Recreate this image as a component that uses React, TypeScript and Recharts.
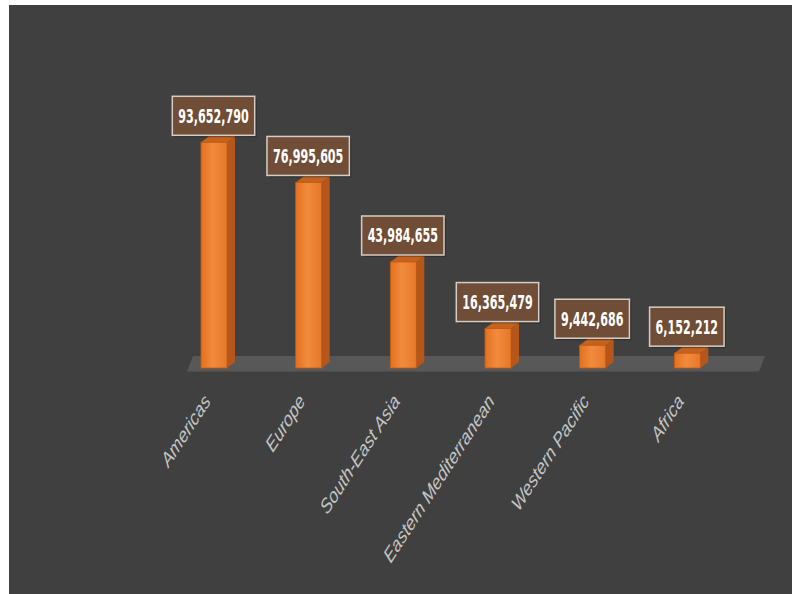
import { BarChart, Bar, XAxis, YAxis, LabelList, ReferenceArea } from "recharts";

const regions = [
  "Americas",
  "Europe",
  "South-East Asia",
  "Eastern Mediterranean",
  "Western Pacific",
  "Africa",
];
const totals = [93652790, 76995605, 43984655, 16365479, 9442686, 6152212];

const data = regions.map((name, i) => ({ name, total: totals[i] }));

const BG = "#404040";
const DEPTH_X = 8;
const DEPTH_Y = 6;

const fmt = (v: number) => v.toLocaleString("en-US");

// column with a fake 3d side and top
const Column3D = (props: any) => {
  const { x, y, width, height } = props;
  if (!height || height <= 0) return null;
  return (
    <g>
      <polygon
        points={`${x + width},${y} ${x + width + DEPTH_X},${y - DEPTH_Y} ${x + width + DEPTH_X},${y + height - DEPTH_Y} ${x + width},${y + height}`}
        fill="#b5561a"
      />
      <polygon
        points={`${x},${y} ${x + DEPTH_X},${y - DEPTH_Y} ${x + width + DEPTH_X},${y - DEPTH_Y} ${x + width},${y}`}
        fill="#c4621f"
      />
      <rect x={x} y={y} width={width} height={height} fill="url(#frontGrad)" stroke="#c55a11" strokeWidth={0.8} />
    </g>
  );
};

const Floor = (props: any) => {
  const { x, y, width, height } = props;
  return (
    <polygon
      points={`${x + 20},${y + height} ${x + width + 24},${y + height} ${x + width + 30},${y} ${x + 26},${y}`}
      fill="#585858"
    />
  );
};

const ValueBox = (props: any) => {
  const { x, y, width, value } = props;
  const label = fmt(value);
  const digits = label.replace(/,/g, "").length;
  const commas = label.length - digits;
  const textW = digits * 7.9 + commas * 3.6;
  const boxW = textW + 12;
  const boxH = 39;
  const cx = x + width / 2 - 0.5;
  const bottom = y - 7;
  return (
    <g>
      <rect
        x={cx - boxW / 2 + 2}
        y={bottom - boxH + 2}
        width={boxW}
        height={boxH}
        fill="#000"
        opacity={0.25}
      />
      <rect
        x={cx - boxW / 2}
        y={bottom - boxH}
        width={boxW}
        height={boxH}
        fill="#6f4d36"
        stroke="#d6cec6"
        strokeWidth={1.5}
      />
      <text
        x={cx}
        y={bottom - boxH / 2 + 7}
        textAnchor="middle"
        textLength={textW}
        lengthAdjust="spacingAndGlyphs"
        fill="#ffffff"
        fontSize={19}
        fontWeight="bold"
        fontFamily="'Liberation Sans Narrow', 'DejaVu Sans Condensed', sans-serif"
      >
        {label}
      </text>
    </g>
  );
};

const RegionTick = (props: any) => {
  const { x, y, payload } = props;
  return (
    <g transform={`translate(${x - 3},${y + 26}) scale(1,1.3) rotate(-50)`}>
      <text
        x={0}
        y={0}
        textAnchor="end"
        fill="#c4c4c4"
        fontSize={16}
        fontStyle="italic"
        fontFamily="'Liberation Sans', Arial, sans-serif"
      >
        {payload.value}
      </text>
    </g>
  );
};

export default function App() {
  return (
    <div style={{ position: "absolute", left: 9, top: 5, width: 783, height: 589, background: BG }}>
      <BarChart
        width={783}
        height={589}
        data={data}
        margin={{ top: 122, right: 57, left: 158, bottom: 0 }}
      >
        <defs>
          <linearGradient id="frontGrad" x1="0" y1="0" x2="1" y2="0">
            <stop offset="0%" stopColor="#e2711f" />
            <stop offset="45%" stopColor="#f28b3d" />
            <stop offset="100%" stopColor="#e6772b" />
          </linearGradient>
        </defs>
        <YAxis hide domain={[0, 100000000]} />
        <XAxis
          dataKey="name"
          height={226}
          interval={0}
          axisLine={false}
          tickLine={false}
          tick={<RegionTick />}
        />
        <ReferenceArea y1={-1500000} y2={5000000} ifOverflow="visible" shape={<Floor />} />
        <Bar dataKey="total" barSize={26} shape={<Column3D />} isAnimationActive={false}>
          <LabelList dataKey="total" content={<ValueBox />} />
        </Bar>
      </BarChart>
    </div>
  );
}
